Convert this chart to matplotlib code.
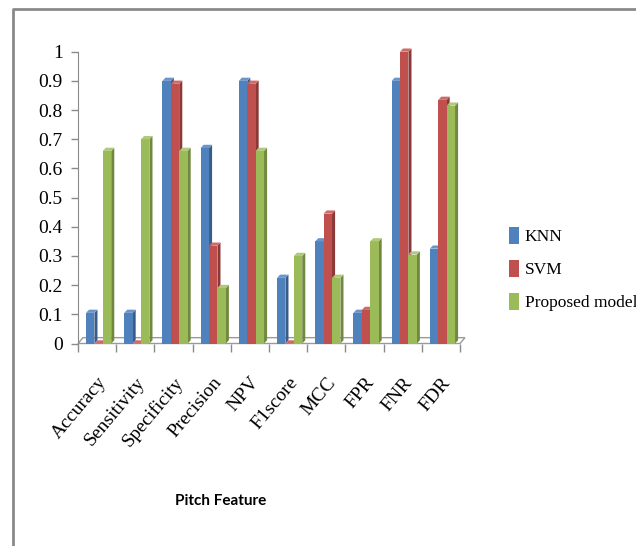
import matplotlib.pyplot as plt
import numpy as np
from matplotlib.patches import Polygon, Patch
from matplotlib.lines import Line2D

categories = ["Accuracy", "Sensitivity", "Specificity", "Precision", "NPV",
              "F1score", "MCC", "FPR", "FNR", "FDR"]
knn = [0.105, 0.105, 0.90, 0.67, 0.90, 0.225, 0.35, 0.105, 0.90, 0.325]
svm = [0.0, 0.0, 0.89, 0.335, 0.89, 0.0, 0.445, 0.115, 1.0, 0.835]
proposed = [0.66, 0.70, 0.66, 0.19, 0.66, 0.30, 0.225, 0.35, 0.305, 0.815]

series = [("KNN", knn, "#4F81BD", "#385D8A", "#6A95CC"),
          ("SVM", svm, "#C0504D", "#8C3836", "#CD6B68"),
          ("Proposed model", proposed, "#9BBB59", "#71893F", "#AFC97A")]

fig = plt.figure(figsize=(6.36, 5.46), dpi=100)
ax = fig.add_axes([78 / 636, 1 - 343.5 / 546, 382 / 636, 291.8 / 546])

x = np.arange(len(categories))
w = 0.22
shift = 0.04
dx, dy = 0.08, 0.011  # depth of the fake 3d look

# floor
fdx, fdy = 0.13, 0.02
floor = Polygon([(-0.5, 0), (9.5, 0), (9.5 + fdx, fdy), (-0.5 + fdx, fdy)],
                closed=True, facecolor="white", edgecolor="#9a9a9a", lw=1, clip_on=False, zorder=1)
ax.add_patch(floor)

for i, (name, vals, c, cside, ctop) in enumerate(series):
    xs = x + (i - 1) * w + shift
    ax.bar(xs, vals, width=w, color=c, edgecolor="none", zorder=3 + i)
    for xc, v in zip(xs, vals):
        l, r = xc - w / 2, xc + w / 2
        side = Polygon([(r, 0), (r + dx, dy), (r + dx, v + dy), (r, v)],
                       facecolor=cside, edgecolor="none", zorder=2.5 + i, clip_on=False)
        top = Polygon([(l, v), (r, v), (r + dx, v + dy), (l + dx, v + dy)],
                      facecolor=ctop, edgecolor="none", zorder=3 + i, clip_on=False)
        ax.add_patch(side)
        ax.add_patch(top)

ax.set_xlim(-0.5, 9.5)
ax.set_ylim(0, 1)
ax.set_yticks(np.arange(0, 1.01, 0.1))
ax.set_yticklabels(["0", "0.1", "0.2", "0.3", "0.4", "0.5", "0.6", "0.7", "0.8", "0.9", "1"])

ax.set_xticks(x)
ax.set_xticklabels(categories, rotation=50, ha="right", rotation_mode="anchor",
                   fontsize=14, family="Liberation Serif")
ax.set_xticks(np.arange(-0.5, 10, 1), minor=True)
ax.tick_params(axis="x", which="major", length=0, pad=22)
ax.tick_params(axis="x", which="minor", length=6, color="#8a8a8a", width=1)
ax.tick_params(axis="y", length=5, color="#8a8a8a", width=1, labelsize=14, pad=6)
for t in ax.get_yticklabels():
    t.set_family("Liberation Serif")

for s in ["top", "right", "bottom"]:
    ax.spines[s].set_visible(False)
ax.spines["left"].set_color("#8a8a8a")

fig.text(221 / 636, 1 - 501 / 546, "Pitch Feature", ha="center", va="center",
         fontsize=11, fontweight="bold", family="Lato")

handles = [Patch(facecolor=c, edgecolor="none", label=n) for n, _, c, _, _ in series]
fig.legend(handles=handles, loc="center left", bbox_to_anchor=(502 / 636, 1 - 269 / 546),
           frameon=False, prop={"family": "Liberation Serif", "size": 12.5},
           handlelength=0.6, handleheight=1.1, handletextpad=0.3, labelspacing=0.85,
           borderaxespad=0)

# outer frame of the original figure
fig.add_artist(Line2D([13 / 636, 13 / 636, 1], [0, 1 - 8.5 / 546, 1 - 8.5 / 546],
                      color="#8a8a8a", lw=2, transform=fig.transFigure))

fig.savefig("out.png", dpi=100)
